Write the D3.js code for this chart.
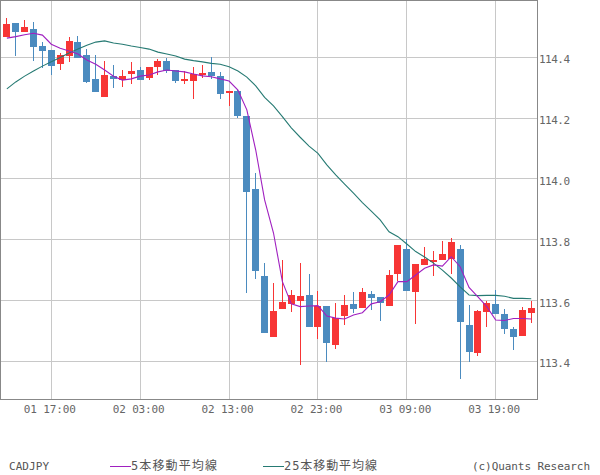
<!DOCTYPE html>
<html><head><meta charset="utf-8">
<script src="https://cdn.jsdelivr.net/npm/d3@7"></script>
<style>html,body{margin:0;padding:0;background:#fff;}svg{display:block;}</style>
</head><body>
<svg id="c" width="600" height="475"></svg>
<script>
const times = ["01 12:00","01 13:00","01 14:00","01 15:00","01 16:00","01 17:00","01 18:00","01 19:00","01 20:00","01 21:00",
"01 22:00","01 23:00","02 00:00","02 01:00","02 02:00","02 03:00","02 04:00","02 05:00","02 06:00","02 07:00",
"02 08:00","02 09:00","02 10:00","02 11:00","02 12:00","02 13:00","02 14:00","02 15:00","02 16:00","02 17:00",
"02 18:00","02 19:00","02 20:00","02 21:00","02 22:00","02 23:00","03 00:00","03 01:00","03 02:00","03 03:00",
"03 04:00","03 05:00","03 06:00","03 07:00","03 08:00","03 09:00","03 10:00","03 11:00","03 12:00","03 13:00",
"03 14:00","03 15:00","03 16:00","03 17:00","03 18:00","03 19:00","03 20:00","03 21:00","03 22:00","03 23:00"];
const opens = [114.467,114.513,114.483,114.493,114.437,114.424,114.378,114.404,114.450,114.408,
114.329,114.269,114.338,114.325,114.345,114.358,114.332,114.368,114.388,114.358,
114.325,114.322,114.342,114.352,114.338,114.283,114.289,114.207,113.967,113.681,
113.480,113.572,113.589,113.598,113.619,113.513,113.582,113.454,113.549,113.589,
113.576,113.622,113.612,113.582,113.687,113.770,113.628,113.717,113.730,113.733,
113.737,113.770,113.520,113.428,113.562,113.589,113.556,113.506,113.483,113.559];
const highs = [114.529,114.513,114.523,114.516,114.450,114.424,114.414,114.467,114.470,114.427,
114.408,114.388,114.375,114.358,114.385,114.368,114.368,114.394,114.398,114.358,
114.355,114.368,114.375,114.401,114.352,114.289,114.292,114.207,114.019,113.723,
113.658,113.733,113.635,113.723,113.687,113.631,113.582,113.592,113.619,113.628,
113.641,113.631,113.612,113.700,113.783,113.803,113.720,113.776,113.763,113.796,
113.806,113.783,113.585,113.569,113.598,113.635,113.572,113.513,113.579,113.598];
const lows = [114.467,114.404,114.483,114.388,114.365,114.342,114.358,114.385,114.398,114.315,
114.286,114.269,114.299,114.302,114.312,114.325,114.325,114.342,114.348,114.315,
114.312,114.263,114.332,114.329,114.263,114.240,114.200,113.625,113.671,113.493,
113.480,113.572,113.562,113.388,113.513,113.474,113.398,113.441,113.520,113.559,
113.576,113.569,113.533,113.582,113.665,113.631,113.523,113.717,113.681,113.733,
113.687,113.342,113.398,113.418,113.513,113.556,113.490,113.437,113.483,113.526];
const closes = [114.510,114.483,114.500,114.434,114.421,114.371,114.408,114.454,114.398,114.319,
114.286,114.342,114.329,114.338,114.355,114.325,114.368,114.388,114.355,114.322,
114.329,114.345,114.348,114.338,114.279,114.289,114.207,113.957,113.697,113.493,
113.566,113.595,113.619,113.615,113.513,113.582,113.461,113.542,113.585,113.572,
113.628,113.609,113.592,113.684,113.783,113.631,113.720,113.737,113.733,113.753,
113.793,113.530,113.431,113.566,113.592,113.556,113.506,113.480,113.569,113.576];
const ma5 = [114.463,114.468,114.474,114.479,114.473,114.443,114.430,114.421,114.411,114.391,
114.377,114.358,114.338,114.325,114.329,114.338,114.342,114.352,114.358,114.355,
114.352,114.345,114.339,114.336,114.329,114.322,114.292,114.227,114.095,113.931,
113.822,113.662,113.589,113.580,113.582,113.583,113.549,113.542,113.539,113.552,
113.560,113.589,113.596,113.618,113.662,113.662,113.684,113.706,113.717,113.713,
113.744,113.711,113.643,113.612,113.580,113.536,113.534,113.541,113.541,113.539];
const ma25 = [114.296,114.319,114.338,114.355,114.371,114.385,114.399,114.414,114.427,114.440,
114.450,114.454,114.447,114.443,114.437,114.432,114.427,114.417,114.411,114.404,
114.394,114.389,114.385,114.380,114.377,114.369,114.355,114.335,114.306,114.268,
114.240,114.205,114.168,114.137,114.108,114.084,114.046,114.013,113.983,113.953,
113.922,113.894,113.865,113.826,113.810,113.786,113.761,113.743,113.723,113.700,
113.674,113.645,113.618,113.616,113.617,113.617,113.614,113.607,113.607,113.606];
const xTickLabels = ["01 17:00","02 03:00","02 13:00","02 23:00","03 09:00","03 19:00"];
const yTickValues = [113.4,113.6,113.8,114.0,114.2,114.4];
const symbol = "CADJPY";
const legendNames = ["5本移動平均線","25本移動平均線"];

const svg = d3.select("#c");
const L = 0.5, R = 537, T = 0.5, B = 399;
const x = d3.scaleBand().domain(times).range([2.42, 535.7]).paddingInner(0).paddingOuter(0);
const y = d3.scaleLinear().domain([113.4, 114.4]).range([361.3, 57.3]);
const cx = t => x(t) + x.bandwidth() / 2;
const UP = "#f73535", DOWN = "#4b8bbf", C5 = "#a020c0", C25 = "#267a73";

// grid
const g = svg.append("g");
g.selectAll("line.h").data(yTickValues).join("line")
  .attr("x1", L).attr("x2", R)
  .attr("y1", d => Math.floor(y(d)) + 0.5).attr("y2", d => Math.floor(y(d)) + 0.5)
  .attr("stroke", "#c8c8c8").attr("stroke-width", 1);
g.selectAll("line.v").data(xTickLabels).join("line")
  .attr("x1", d => Math.floor(cx(d)) + 0.5).attr("x2", d => Math.floor(cx(d)) + 0.5)
  .attr("y1", T).attr("y2", B)
  .attr("stroke", "#c8c8c8").attr("stroke-width", 1);

// candles
const idx = d3.range(times.length);
const cg = svg.append("g");
cg.selectAll("line.w").data(idx).join("line")
  .attr("x1", i => Math.floor(cx(times[i])) + 0.5).attr("x2", i => Math.floor(cx(times[i])) + 0.5)
  .attr("y1", i => y(highs[i])).attr("y2", i => y(lows[i]))
  .attr("stroke", i => closes[i] >= opens[i] ? UP : DOWN).attr("stroke-width", 1)
  .attr("shape-rendering", "crispEdges");
cg.selectAll("rect").data(idx).join("rect")
  .attr("x", i => Math.floor(cx(times[i])) - 3)
  .attr("width", 7)
  .attr("y", i => Math.round(y(Math.max(opens[i], closes[i]))))
  .attr("height", i => Math.max(2, Math.round(Math.abs(y(opens[i]) - y(closes[i])))))
  .attr("fill", i => closes[i] >= opens[i] ? UP : DOWN)
  .attr("shape-rendering", "crispEdges");

// moving averages
const line = arr => d3.line().x((d, i) => cx(times[i])).y(d => y(d))(arr);
svg.append("path").attr("d", line(ma25)).attr("fill", "none").attr("stroke", C25).attr("stroke-width", 1.1);
svg.append("path").attr("d", line(ma5)).attr("fill", "none").attr("stroke", C5).attr("stroke-width", 1.1);

// frame
svg.append("path").attr("d", `M${L},${B} V${T} H${R} V${B} Z`)
  .attr("fill", "none").attr("stroke", "#888").attr("stroke-width", 1).attr("shape-rendering", "crispEdges");

const FONT = "'DejaVu Sans Mono', 'Noto Sans CJK JP', monospace";
// y labels
svg.selectAll("text.y").data(yTickValues).join("text")
  .attr("x", 539).attr("y", d => y(d) + 6)
  .attr("font-family", FONT).attr("font-size", 11).attr("fill", "#666")
  .attr("textLength", 31).attr("lengthAdjust", "spacing")
  .text(d => d.toFixed(1));
// x labels
svg.selectAll("text.x").data(xTickLabels).join("text")
  .attr("x", d => cx(d) - 1.5).attr("y", 413)
  .attr("text-anchor", "middle")
  .attr("font-family", FONT).attr("font-size", 11).attr("fill", "#666")
  .attr("textLength", 52).attr("lengthAdjust", "spacing")
  .text(d => d);

// legend
const ly = 470;
svg.append("text").attr("x", 9).attr("y", ly).attr("font-family", FONT).attr("font-size", 11)
  .attr("fill", "#555").attr("textLength", 40).attr("lengthAdjust", "spacing").text(symbol);
const legend = [{name: legendNames[0], color: C5, x: 110, w: 86}, {name: legendNames[1], color: C25, x: 263, w: 93}];
legend.forEach(d => {
  svg.append("line").attr("x1", d.x).attr("x2", d.x + 21).attr("y1", 466.5).attr("y2", 466.5)
    .attr("stroke", d.color).attr("stroke-width", 1);
  svg.append("text").attr("x", d.x + 21).attr("y", ly).attr("font-family", FONT).attr("font-size", 12)
    .attr("fill", "#555").attr("textLength", d.w).attr("lengthAdjust", "spacing").text(d.name);
});
svg.append("text").attr("x", 590).attr("y", ly).attr("text-anchor", "end").attr("font-family", FONT)
  .attr("font-size", 11).attr("fill", "#555").attr("textLength", 118).attr("lengthAdjust", "spacing")
  .text("(c)Quants Research");
</script>
</body></html>
